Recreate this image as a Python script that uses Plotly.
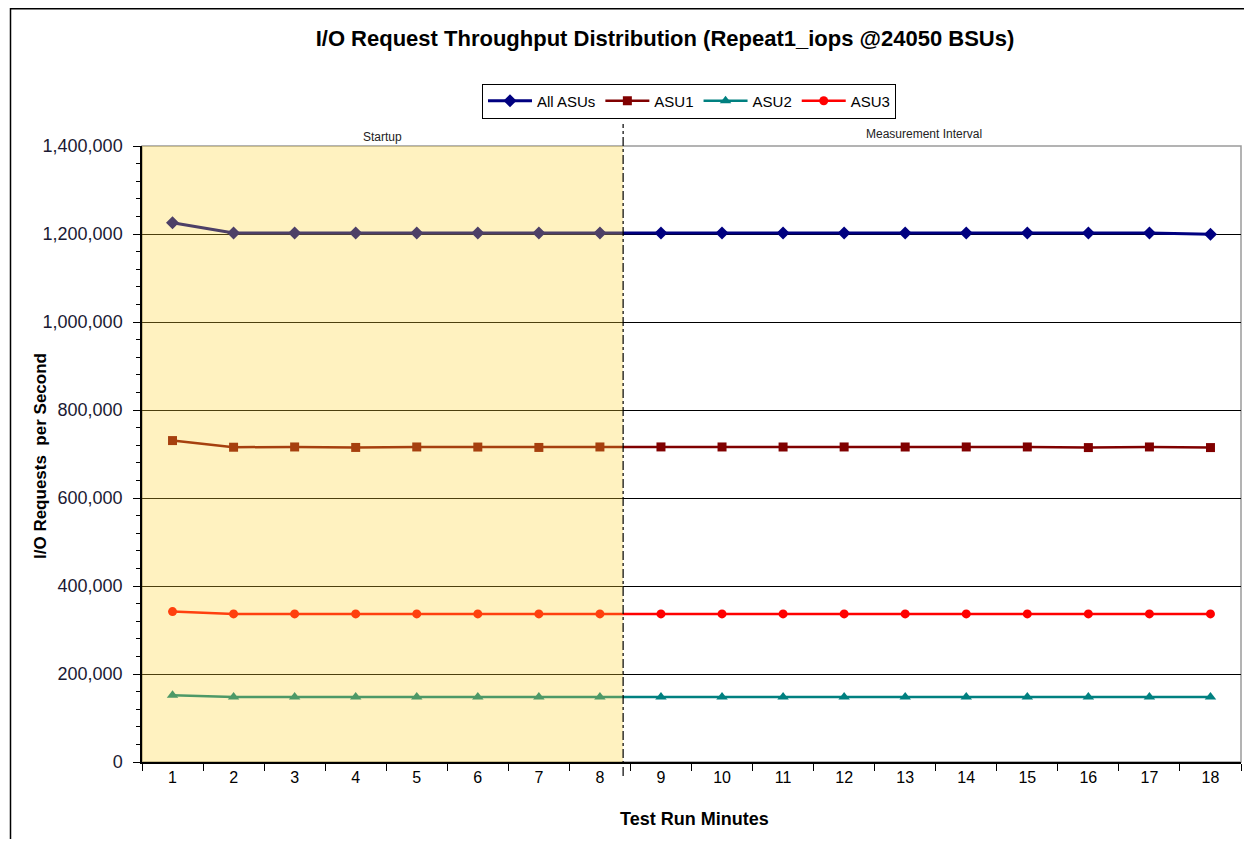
import plotly.graph_objects as go

minutes = list(range(1, 19))
tick_labels = [str(m) for m in minutes]

all_asus = [1225800, 1202100, 1202300, 1202000, 1202200, 1202100, 1202000, 1202200, 1202300,
            1202100, 1202200, 1202000, 1202100, 1202200, 1202000, 1202100, 1202200, 1199600]
asu1 = [730500, 715400, 716000, 714900, 716000, 715800, 714900, 716000, 716100,
        716000, 715900, 716000, 715900, 716000, 716000, 714600, 716000, 714600]
asu2 = [151500, 148000, 148000, 148000, 148000, 148000, 148000, 148000, 148000,
        148000, 148000, 148000, 148000, 148000, 148000, 148000, 148000, 148000]
asu3 = [341800, 336600, 336500, 336600, 336500, 336600, 336500, 336600, 336500,
        336600, 336500, 336600, 336500, 336600, 336500, 336600, 336500, 336600]

series = [
    ("All ASUs", all_asus, "#000080", "diamond", 10, 3),
    ("ASU1", asu1, "#800000", "square", 9, 2.5),
    ("ASU2", asu2, "#008080", "triangle-up", 10, 2.5),
    ("ASU3", asu3, "#FF0000", "circle", 9, 2.5),
]

fig = go.Figure()
for name, vals, color, sym, msize, lw in series:
    fig.add_trace(go.Scatter(
        x=minutes, y=vals, name=name, mode="lines+markers",
        line=dict(color=color, width=lw),
        marker=dict(symbol=sym, size=msize, color=color),
    ))

# page body has an 8px margin; target coordinates below are screenshot pixels
OFF = 8
W, H = 1252 - 2 * OFF, 847 - 2 * OFF
PL, PR, PT, PB = 142, 1241, 146, 762  # plot area in screenshot pixels
L, R, T, B = PL - OFF, W - (PR - OFF), PT - OFF, H - (PB - OFF)
pw, ph = PR - PL, PB - PT

def px_x(x):
    return (x - PL) / pw

def px_y(y):
    return (PB - y) / ph

split = 8.38

shapes = [
    dict(type="rect", xref="x", yref="y", x0=0.5, x1=split, y0=0, y1=1400000,
         fillcolor="rgb(255,212,45)", opacity=0.3, line=dict(width=0), layer="above"),
    dict(type="rect", xref="paper", yref="paper", x0=0, x1=1, y0=0, y1=1,
         line=dict(color="#9a9a9a", width=1.5), layer="below"),
    dict(type="line", xref="x", yref="paper", x0=split, x1=split,
         y0=px_y(776), y1=px_y(124), line=dict(color="#000000", width=1.2, dash="dashdot")),
    dict(type="rect", xref="paper", yref="paper", x0=px_x(10.5), x1=px_x(1262),
         y0=px_y(860), y1=px_y(8.8), line=dict(color="#000000", width=1.5)),
]

annotations = [
    dict(text="Startup", x=(0.5 + split) / 2, xref="x", y=px_y(137), yref="paper",
         showarrow=False, font=dict(family="Arial", size=12, color="#222222"),
         xanchor="center", yanchor="middle"),
    dict(text="Measurement Interval", x=13.3, xref="x", y=px_y(134), yref="paper",
         showarrow=False, font=dict(family="Arial", size=12, color="#222222"),
         xanchor="center", yanchor="middle"),
    dict(text="<b>I/O Requests  per Second</b>", x=px_x(40), xref="paper", y=px_y(456),
         yref="paper", textangle=-90, showarrow=False,
         font=dict(family="Arial", size=17, color="#000000"),
         xanchor="center", yanchor="middle"),
    dict(text="<b>Test Run Minutes</b>", x=px_x(694), xref="paper", y=px_y(819),
         yref="paper", showarrow=False,
         font=dict(family="Arial", size=18, color="#000000"),
         xanchor="center", yanchor="middle"),
]

fig.update_layout(
    width=W, height=H,
    margin=dict(l=L, r=R, t=T, b=B),
    paper_bgcolor="white", plot_bgcolor="white",
    title=dict(text="<b>I/O Request Throughput Distribution (Repeat1_iops @24050 BSUs)</b>",
               x=(665 - OFF) / W, xanchor="center", y=1 - (38 - OFF) / H, yanchor="middle",
               font=dict(family="Arial", size=22, color="#000000")),
    legend=dict(orientation="h", x=px_x(689), xanchor="center", y=px_y(101), yanchor="middle",
                bordercolor="#000000", borderwidth=1, bgcolor="white",
                font=dict(family="Arial", size=15, color="#000000"),
                itemwidth=44),
    shapes=shapes,
    annotations=annotations,
    showlegend=True,
)

fig.update_xaxes(
    range=[0.5, 18.5], tickvals=minutes, ticktext=tick_labels,
    ticks="", showgrid=False, zeroline=False,
    showline=True, linecolor="#000000", linewidth=1.5,
    tickfont=dict(family="Arial", size=16, color="#000000"),
    minor=dict(tick0=0.5, dtick=1, ticks="outside", ticklen=7, tickcolor="#000000",
               tickwidth=1, showgrid=False),
)
fig.update_yaxes(
    range=[0, 1400000], dtick=200000, tickformat=",d",
    ticks="outside", ticklen=7, tickcolor="#000000", tickwidth=1,
    ticklabelstandoff=7,
    showgrid=True, gridcolor="#000000", gridwidth=1, zeroline=False,
    showline=True, linecolor="#000000", linewidth=1.5,
    tickfont=dict(family="Arial", size=18, color="#1a1a33"),
    minor=dict(dtick=40000, ticks="outside", ticklen=4, tickcolor="#000000", showgrid=False),
)

fig.write_html("out.html")
